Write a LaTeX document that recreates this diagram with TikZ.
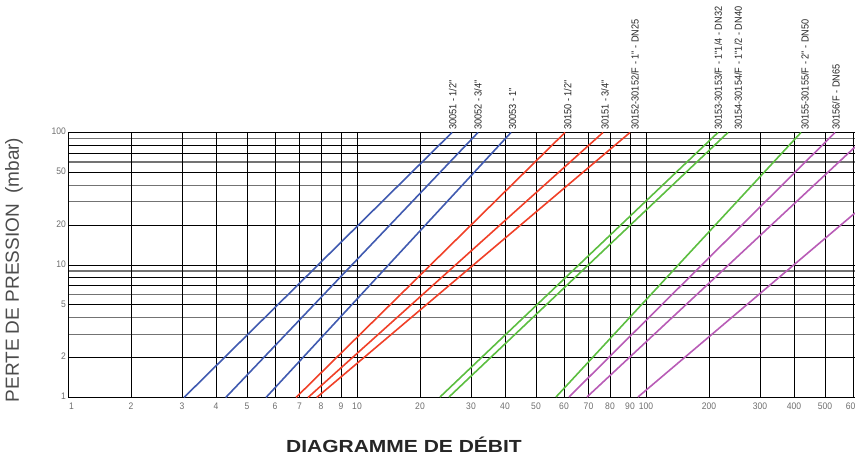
\documentclass[tikz,border=0pt]{standalone}
\usepackage{fontspec}
\setmainfont{Liberation Sans}
\newfontfamily\narrowfont[FakeStretch=0.9]{Liberation Sans}
\newfontfamily\titlefont[FakeStretch=1.2]{Liberation Sans}
\definecolor{lineblue}{RGB}{64,90,176}
\definecolor{linered}{RGB}{240,64,40}
\definecolor{linegreen}{RGB}{92,190,64}
\definecolor{linemagenta}{RGB}{184,92,182}
\definecolor{ticktext}{RGB}{110,110,110}
\definecolor{minorgray}{RGB}{115,115,115}

\begin{document}
\begin{tikzpicture}[x=1pt,y=1pt,
  major/.style={black,line width=0.9pt},
  minor/.style={minorgray,line width=1.2pt},
  flow/.style={line width=1.6pt},
  model/.style={rotate=90,anchor=west,inner sep=0pt,font=\narrowfont\fontsize{10.2}{11}\selectfont,text=black!85},
  tick/.style={font=\narrowfont\fontsize{9.5}{10}\selectfont,text=ticktext,inner sep=0pt}]
\useasboundingbox (0,0) rectangle (855,455);
\begin{scope}
\clip (0,0) rectangle (855,455);
% Horizontal lines (pressure, log scale)
\foreach \v in {3,4,6,9,30,40,60,90}
  \draw[minor] (68,{57.5+132.5*log10(\v)}) -- (855,{57.5+132.5*log10(\v)});
\foreach \v in {1,2,5,7,8,10,20,50,70,80,100}
  \draw[major] (68,{57.5+132.5*log10(\v)}) -- (855,{57.5+132.5*log10(\v)});
% Vertical lines (flow)
\foreach \xx in {68,131,182,216,247,275,299.5,321,341,
                 357,420,471,505,536,564,588.5,610,630,
                 646,709,760,794,825,853}
  \draw[major] (\xx,57.5) -- (\xx,322.5);
% Axis numbers
\node[tick,anchor=west] (x1) at (69,49) {1};
\foreach \xx/\lab in {131/2,182/3,216/4,247/5,275/6,299.5/7,321/8,341/9,
                      357/10,420/20,471/30,505/40,536/50,564/60,588.5/70,610/80,630/90,
                      646/100,709/200,760/300,794/400,825/500,853/600}
  \node[tick] (x\lab) at (\xx,49) {\lab};
\foreach \v in {1,2,5,10,20,50,100}
  \node[tick,anchor=east] (y\v) at (66,{58.5+132.5*log10(\v)}) {\v};
% Pressure drop lines
\draw[flow,lineblue] (184,57.5) -- (452,322.5);
\draw[flow,lineblue] (225.7,57.5) -- (478,322.5);
\draw[flow,lineblue] (266,57.5) -- (511,322.5);
\draw[flow,linered] (296,57.5) -- (565,322.5);
\draw[flow,linered] (308,57.5) -- (603,322.5);
\draw[flow,linered] (316.7,57.5) -- (630,322.5);
\draw[flow,linegreen] (440,58) -- (718,322.5);
\draw[flow,linegreen] (449,58) -- (728,322.5);
\draw[flow,linegreen] (556,58) -- (801,322.5);
\draw[flow,linemagenta] (569,58) -- (835,322.5);
\draw[flow,linemagenta] (587,58) -- (855,308);
\draw[flow,linemagenta] (638,58) -- (855,242);
\end{scope}
% Model names
\node[model] (m30051) at (452.7,325) {30051 - 1/2"};
\node[model] (m30052) at (478,325) {30052 - 3/4"};
\node[model] (m30053) at (512.7,325) {30053 - 1"};
\node[model] (m30150) at (567.7,325) {30150 - 1/2"};
\node[model] (m30151) at (605,325) {30151 - 3/4"};
\node[model] (m30152) at (635,325) {30152-30152/F - 1" - DN25};
\node[model] (m30153) at (718.3,325) {30153-30153/F - 1"1/4 - DN32};
\node[model] (m30154) at (738.3,325) {30154-30154/F - 1"1/2 - DN40};
\node[model] (m30155) at (805,325) {30155-30155/F - 2" - DN50};
\node[model] (m30156) at (836,325) {30156/F - DN65};
% Axis titles
\node[rotate=90,font=\fontsize{19}{21}\selectfont,text=black!70] (ytitle) at (14,185) {PERTE DE PRESSION\ \ (mbar)};
\node[font=\titlefont\bfseries\fontsize{17.5}{20}\selectfont,text=black!85] (title) at (404,10) {DIAGRAMME DE DÉBIT};
\end{tikzpicture}
\end{document}
